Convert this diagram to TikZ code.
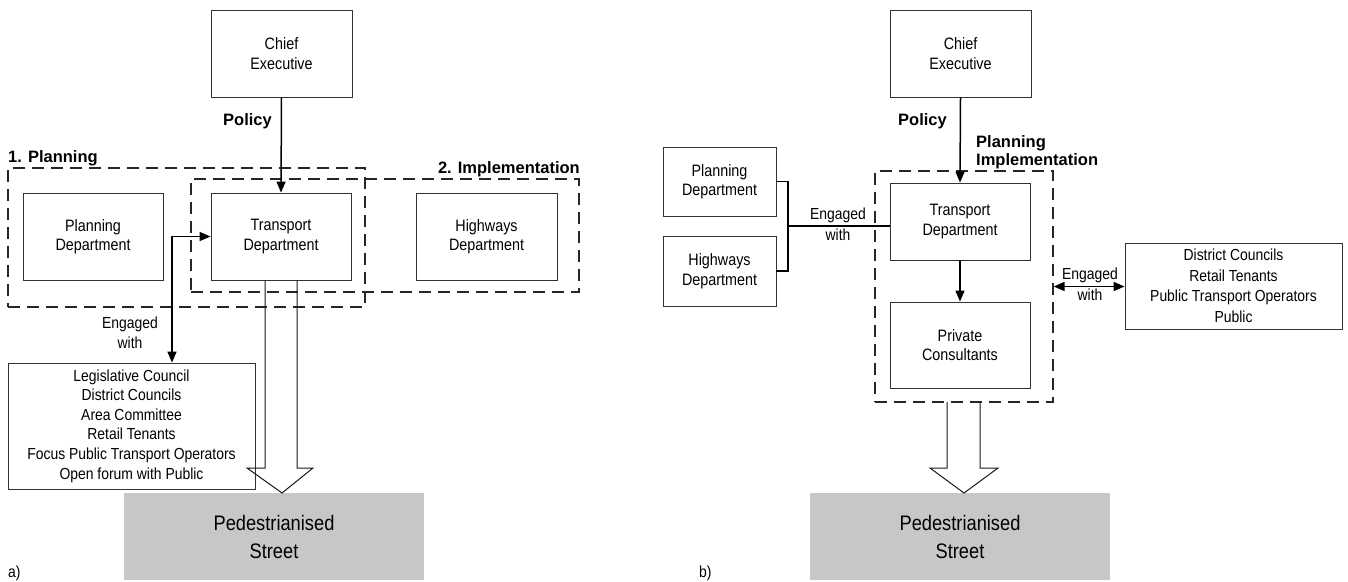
\documentclass[tikz,border=0pt]{standalone}
\usepackage{fontspec}
\setmainfont{Liberation Sans}
\newfontfamily\regfont[FakeStretch=0.87]{Liberation Sans}
\usetikzlibrary{arrows.meta}
\begin{document}
\begin{tikzpicture}[x=1pt,y=-1pt,
  box/.style={draw=black!80, line width=0.9pt, rectangle, inner sep=0pt, align=center,
    font=\regfont\fontsize{16.5}{19.5}\selectfont},
  dbox/.style={draw=black!85, rectangle, inner sep=0pt, dash pattern=on 12pt off 7pt, line width=1.2pt},
  arr/.style={-{Triangle[length=11pt,width=9pt]}, line width=1.5pt},
  arrboth/.style={{Triangle[length=11pt,width=9pt]}-{Triangle[length=11pt,width=9pt]}, line width=1.5pt},
  link/.style={line width=1.5pt},
  lab/.style={align=center, inner sep=0pt, font=\regfont\fontsize{16}{20.5}\selectfont},
  blab/.style={inner sep=0pt, align=left, font=\bfseries\fontsize{16.5}{18}\selectfont},
  street/.style={fill=black!22, inner sep=0pt, align=center, font=\regfont\fontsize{21}{28}\selectfont},
  hollow/.style={draw=black!90, line width=1pt, line join=miter}
]
\useasboundingbox (0,0) rectangle (1348,581);

% ---------------- a) ----------------
\node[dbox, minimum width=357pt, minimum height=139pt] (DP) at (186.5,237.5) {};
\node[dbox, minimum width=388pt, minimum height=113pt] (DI) at (385,235.5) {};

\node[box, minimum width=141pt, minimum height=87pt] (CE1) at (281.5,53.5) {Chief\\Executive};
\node[box, minimum width=140pt, minimum height=87pt] (T1) at (281,236.5) {Transport\\Department};
\node[box, minimum width=140pt, minimum height=87pt] (P1) at (93,236.5) {Planning\\Department};
\node[box, minimum width=141pt, minimum height=87pt] (H1) at (486.5,236.5) {Highways\\Department};
\node[box, minimum width=247pt, minimum height=126pt, font=\regfont\fontsize{16}{19.6}\selectfont] (Leg) at (131.5,426)
  {Legislative Council\\District Councils\\Area Committee\\Retail Tenants\\Focus Public Transport Operators\\Open forum with Public};
\node[street, minimum width=300pt, minimum height=87pt] (S1) at (274,536.5) {Pedestrianised\\Street};

\node[blab, anchor=base east] (pol1) at (272,125) {Policy};
\node[blab, anchor=base west] (plan1) at (8,162) {1. Planning};
\node[blab, anchor=base east] (impl1) at (580,173) {2. Implementation};
\node[lab] (eng1) at (130,333) {Engaged\\with};

\draw[arr] (CE1.south) -- (T1.north);
\coordinate (e1) at (172,236.5);
\draw[arrboth] (T1.west) -- (e1) -- (e1 |- Leg.north);

\draw[hollow] (265,280) -- (265,468) -- (247,468) -- (282,493) -- (313,468) -- (297,468) -- (297,280);

\node[lab, anchor=base west] (la) at (8,577) {a)};

% ---------------- b) ----------------
\node[dbox, minimum width=178pt, minimum height=231pt] (D2) at (964,286.5) {};
\node[box, minimum width=141pt, minimum height=87pt] (CE2) at (960.5,53.5) {Chief\\Executive};
\node[box, minimum width=140pt, minimum height=77pt] (T2) at (960,221.5) {Transport\\Department};
\node[box, minimum width=140pt, minimum height=86pt] (PC) at (960,345) {Private\\Consultants};
\node[box, minimum width=113pt, minimum height=69pt] (P2) at (719.5,181.5) {Planning\\Department};
\node[box, minimum width=113pt, minimum height=70pt] (H2) at (719.5,271) {Highways\\Department};
\node[box, minimum width=217pt, minimum height=86pt, font=\regfont\fontsize{16}{20.5}\selectfont] (DC) at (1233.5,286)
  {District Councils\\Retail Tenants\\Public Transport Operators\\Public};
\node[street, minimum width=300pt, minimum height=87pt] (S2) at (960,536.5) {Pedestrianised\\Street};

\node[blab, anchor=base east] (pol2) at (947,125) {Policy};
\node[blab, anchor=north west] (pi2) at (976,135) {Planning\\Implementation};
\node[lab] (eng2) at (838,224.5) {Engaged\\with};
\node[lab] (eng3) at (1090,284.5) {Engaged\\with};

\draw[arr] (CE2.south) -- (T2.north);
\draw[arr] (T2.south) -- (PC.north);
\coordinate (b1) at (788,226);
\draw[link] (P2.east) -| (b1) |- (H2.east);
\draw[link] (b1) -- (b1 -| T2.west);
\draw[arrboth] (D2.east) -- (D2.east -| DC.west);

\draw[hollow] (947,402) -- (947,468) -- (930,468) -- (964,493) -- (998,468) -- (980,468) -- (980,402);

\node[lab, anchor=base west] (lb) at (699,577) {b)};
\end{tikzpicture}
\end{document}
